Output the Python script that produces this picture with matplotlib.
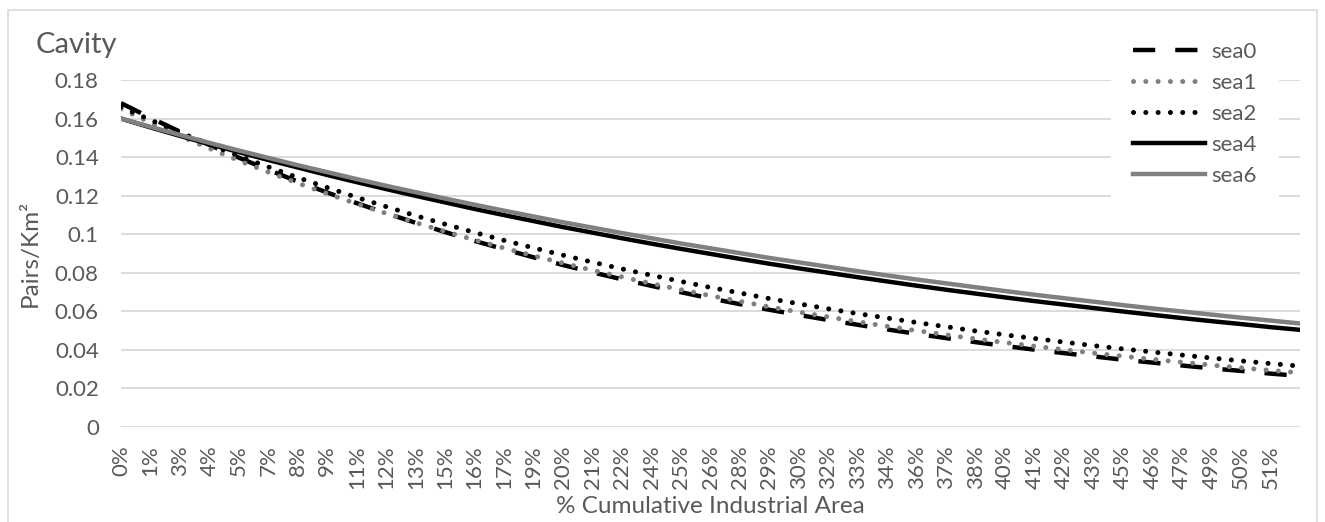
import matplotlib.pyplot as plt
from matplotlib.patches import Rectangle
from matplotlib.ticker import FuncFormatter

plt.rcParams['font.family'] = ['Lato', 'DejaVu Sans']

# x categories (% cumulative industrial area), one label per category
x_labels = ['0%', '1%', '3%', '4%', '5%', '7%', '8%', '9%', '11%', '12%',
            '13%', '15%', '16%', '17%', '19%', '20%', '21%', '22%', '24%', '25%',
            '26%', '28%', '29%', '30%', '32%', '33%', '34%', '36%', '37%', '38%',
            '40%', '41%', '42%', '43%', '45%', '46%', '47%', '49%', '50%', '51%']

# pairs/km2 (last point sits past the last label)
sea0 = [0.1680, 0.1604, 0.1532, 0.1463, 0.1397, 0.1334, 0.1273, 0.1216, 0.1161, 0.1109,
        0.1059, 0.1011, 0.0965, 0.0922, 0.0880, 0.0840, 0.0802, 0.0766, 0.0732, 0.0699,
        0.0667, 0.0637, 0.0608, 0.0581, 0.0555, 0.0530, 0.0506, 0.0483, 0.0461, 0.0440,
        0.0420, 0.0401, 0.0383, 0.0366, 0.0349, 0.0334, 0.0319, 0.0304, 0.0291, 0.0277,
        0.0265]
sea1 = [0.1650, 0.1579, 0.1510, 0.1445, 0.1382, 0.1322, 0.1265, 0.1210, 0.1158, 0.1108,
        0.1060, 0.1014, 0.0970, 0.0928, 0.0888, 0.0850, 0.0813, 0.0778, 0.0744, 0.0712,
        0.0681, 0.0652, 0.0623, 0.0596, 0.0571, 0.0546, 0.0522, 0.0500, 0.0478, 0.0457,
        0.0438, 0.0419, 0.0401, 0.0383, 0.0367, 0.0351, 0.0336, 0.0321, 0.0307, 0.0294,
        0.0281]
sea2 = [0.1660, 0.1593, 0.1528, 0.1466, 0.1406, 0.1349, 0.1294, 0.1242, 0.1191, 0.1143,
        0.1096, 0.1052, 0.1009, 0.0968, 0.0929, 0.0891, 0.0855, 0.0820, 0.0787, 0.0755,
        0.0724, 0.0695, 0.0666, 0.0639, 0.0613, 0.0588, 0.0565, 0.0542, 0.0520, 0.0498,
        0.0478, 0.0459, 0.0440, 0.0422, 0.0405, 0.0389, 0.0373, 0.0358, 0.0343, 0.0329,
        0.0316]
sea4 = [0.1600, 0.1554, 0.1510, 0.1467, 0.1426, 0.1385, 0.1346, 0.1307, 0.1270, 0.1234,
        0.1199, 0.1165, 0.1131, 0.1099, 0.1068, 0.1037, 0.1008, 0.0979, 0.0951, 0.0924,
        0.0898, 0.0872, 0.0847, 0.0823, 0.0800, 0.0777, 0.0755, 0.0733, 0.0712, 0.0692,
        0.0672, 0.0653, 0.0635, 0.0617, 0.0599, 0.0582, 0.0565, 0.0549, 0.0534, 0.0518,
        0.0504]
sea6 = [0.1600, 0.1557, 0.1515, 0.1474, 0.1434, 0.1396, 0.1358, 0.1322, 0.1286, 0.1251,
        0.1218, 0.1185, 0.1153, 0.1122, 0.1092, 0.1062, 0.1034, 0.1006, 0.0979, 0.0952,
        0.0927, 0.0902, 0.0877, 0.0854, 0.0831, 0.0808, 0.0786, 0.0765, 0.0745, 0.0725,
        0.0705, 0.0686, 0.0668, 0.0650, 0.0632, 0.0615, 0.0599, 0.0583, 0.0567, 0.0552,
        0.0537]

txt = '#595959'
grey = '#808080'

fig = plt.figure(figsize=(13.25, 5.22), dpi=100)
ax = fig.add_axes([121 / 1325, 1 - 427 / 522, (1300 - 121) / 1325, (427 - 80) / 522])

x = list(range(len(sea0)))
ax.plot(x, sea0, color='black', lw=3.2, ls=(0, (5.0, 4.5)), label='sea0')
ax.plot(x, sea1, color=grey, lw=3.6, ls=(0, (0.01, 2.45)), dash_capstyle='round', label='sea1')
ax.plot(x, sea2, color='black', lw=3.6, ls=(0, (0.01, 2.45)), dash_capstyle='round', label='sea2')
ax.plot(x, sea4, color='black', lw=3.2, label='sea4')
ax.plot(x, sea6, color=grey, lw=3.2, label='sea6')

ax.set_xlim(0, len(sea0) - 1)
ax.set_ylim(0, 0.18)
ax.set_yticks([i * 0.02 for i in range(10)])
ax.yaxis.set_major_formatter(FuncFormatter(lambda v, p: '{:g}'.format(round(v, 2))))
ax.set_xticks(range(len(x_labels)))
ax.set_xticklabels(x_labels, rotation=90)
ax.tick_params(axis='both', length=0, labelsize=16, labelcolor=txt)
ax.tick_params(axis='x', pad=13)
ax.tick_params(axis='y', pad=16)
ax.grid(axis='y', color='#d9d9d9', lw=1.3)
ax.set_axisbelow(True)
for s in ax.spines.values():
    s.set_visible(False)

ax.set_xlabel('% Cumulative Industrial Area', fontsize=17.5, color=txt, labelpad=5)
ax.set_ylabel('Pairs/Km²', fontsize=17.5, color=txt, labelpad=10)
fig.text(36 / 1325, 1 - 45 / 522, 'Cavity', fontsize=21, color=txt, va='center', ha='left')

leg = fig.legend(loc='upper right', bbox_to_anchor=(1290 / 1325, 0.984), fontsize=16,
                 frameon=True, fancybox=False, facecolor='white', edgecolor='none',
                 framealpha=1, handlelength=3.2, handletextpad=0.3, labelspacing=0.5,
                 borderpad=1.0)
for t in leg.get_texts():
    t.set_color(txt)

fig.patches.append(Rectangle((8 / 1325, -0.05), (1317 - 8) / 1325, 1.05 - 10 / 522,
                             transform=fig.transFigure, fill=False,
                             edgecolor='#d9d9d9', lw=1.2))

fig.savefig('out.png', dpi=100)
